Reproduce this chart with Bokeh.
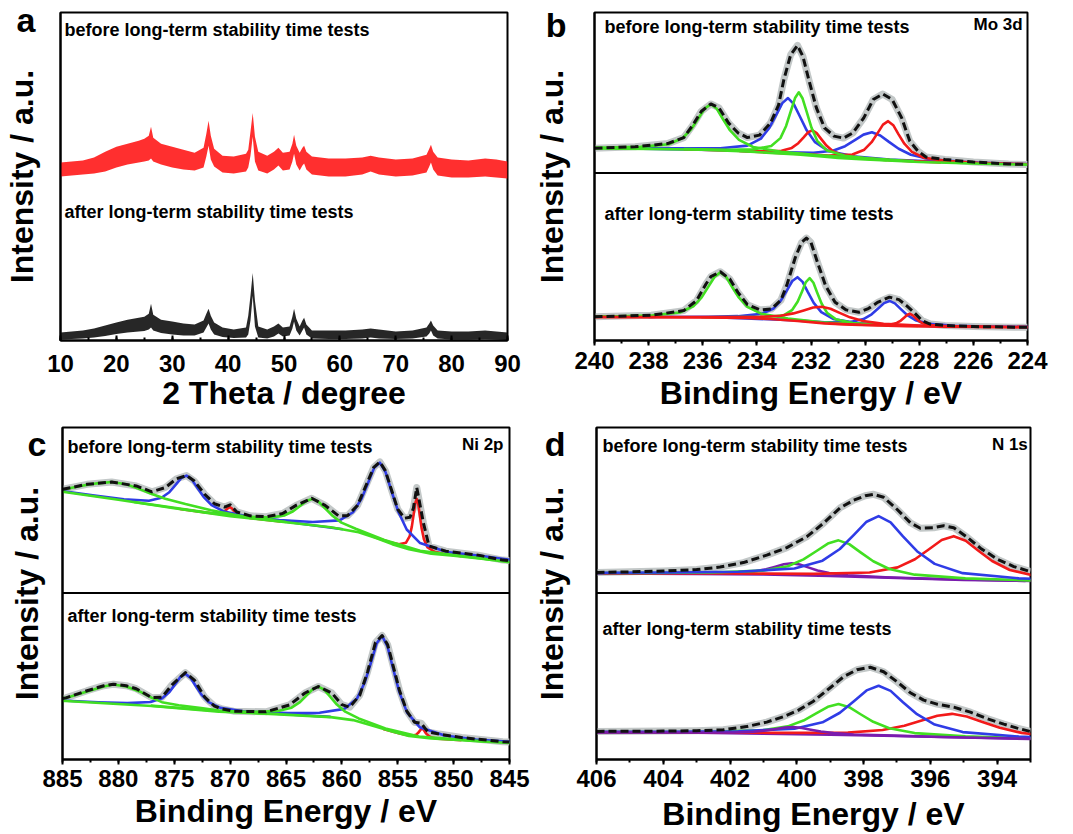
from bokeh.plotting import figure
from bokeh.models import Range1d, Label, Span, SingleIntervalTicker, FixedTicker
from bokeh.layouts import row, column
from bokeh.embed import file_html
from bokeh.resources import INLINE

FONT = "Liberation Sans"
RED = "#f21a1a"
BLUE = "#2f3ce6"
GREEN = "#42df22"
PURPLE = "#7a1cae"
RAW = "#c3c8c8"
ENV = "#111111"

# ---------------- (a) XRD: noise band of each pattern (upper / lower edge) ----------------
xrd_2theta = [10, 12, 14, 16, 18, 20, 22, 24, 25, 25.8, 26.2, 26.6, 28, 30, 32, 34, 35.6, 36.1, 36.5, 36.9,
              37.5, 39, 41, 43.2, 43.6, 44.0, 44.4, 44.8, 45.4, 47, 48.2, 49, 49.8, 51.0, 51.5, 51.8, 52.2,
              52.8, 53.3, 53.6, 54.0, 55, 58, 61, 64, 65.5, 67, 70, 73, 75.5, 76.0, 76.3, 76.7, 77.5, 80,
              83, 86, 88, 90]
xrd_before_hi = [179, 180, 181, 184, 190, 195, 198, 201, 203, 206, 215, 204, 198, 195, 192, 189, 194, 208, 221,
                 206, 193, 186, 185, 188, 192, 210, 229, 205, 190, 186, 190, 194, 189, 190, 198, 207, 196, 189,
                 194, 196, 190, 185, 183, 183, 184, 186, 184, 182, 183, 187, 193, 197, 190, 184, 182, 181, 183,
                 182, 180]
xrd_before_lo = [165, 166, 167, 168, 170, 174, 177, 179, 180, 181, 183, 180, 177, 174, 172, 171, 174, 185, 196,
                 182, 175, 169, 168, 170, 174, 186, 205, 180, 171, 168, 172, 176, 171, 172, 180, 188, 177, 171,
                 176, 178, 172, 167, 165, 165, 167, 170, 167, 165, 166, 169, 175, 179, 172, 166, 164, 164, 165,
                 164, 163]
xrd_after_hi = [8, 9, 10, 12, 15, 18, 21, 23, 24, 27, 37, 26, 21, 19, 17, 16, 20, 27, 32, 25, 18, 13, 11, 13,
                25, 45, 68, 40, 14, 11, 14, 17, 13, 14, 24, 32, 22, 14, 20, 23, 16, 10, 10, 10, 11, 12, 11, 9,
                10, 13, 17, 20, 15, 10, 9, 9, 10, 9, 8]
xrd_after_lo = [1, 1.5, 2, 3, 4.5, 6.5, 8, 9, 9.5, 11, 13, 10, 7.5, 6, 5, 5, 8, 13, 17, 11, 6, 3.5, 2.5, 3, 6,
                20, 45, 14, 3, 2, 4, 7, 4, 5, 12, 19, 10, 5, 10, 13, 6, 2, 1.5, 1.5, 2, 3, 2, 1.5, 2, 4, 7, 10,
                5, 2, 1, 1, 1.5, 1, 0.5]

# ---------------- (b) Mo 3d, before ----------------
mo1_bg_x = [240, 238, 236, 234.4, 233.5, 232.5, 231.5, 231, 230, 229, 228, 226, 224]
mo1_bg_y = [24.7, 24.2, 23.4, 21.5, 20.2, 18.6, 16.3, 15.0, 13.6, 12.3, 11.1, 9.6, 8.4]
mo1_env_x = [240, 238.5, 237.3, 236.7, 236.35, 236.05, 235.7, 235.4, 235.05, 234.7, 234.35, 233.9, 233.5, 233.2,
             233.0, 232.75, 232.5, 232.3, 232.05, 231.8, 231.5, 231.15, 230.8, 230.45, 230.05, 229.7, 229.35,
             229.0, 228.65, 228.35, 228.05, 227.75, 227.05, 226.0, 224.7, 224]
mo1_env_y = [24.9, 26.3, 29.5, 35.5, 48.7, 62, 69.3, 65.3, 50.3, 40.3, 35.5, 38, 50, 68, 94, 118.7, 128, 117,
             90.3, 65.3, 45.3, 37, 35, 40.3, 55.3, 73.7, 79.3, 73.7, 55.3, 32, 22, 16, 13.5, 11, 9, 8.6]
mo1_g1_x = [242.2, 239.6, 238.3, 237.26, 236.74, 236.42, 236.16, 235.92, 235.7, 235.48, 235.25, 234.99, 234.66,
            234.14, 233.1, 231.8, 229.2]
mo1_g1_y = [25.5, 25.5, 26.2, 28.9, 35.1, 44.1, 54.9, 64.9, 69.0, 64.4, 53.9, 42.7, 33.2, 26.1, 21.4, 17.9, 12.9]
mo1_g2_x = [236.7, 235.0, 234.15, 233.47, 233.13, 232.92, 232.75, 232.59, 232.45, 232.31, 232.15, 231.98, 231.77,
            231.43, 230.75, 229.9, 228.2]
mo1_g2_y = [24.1, 23.4, 23.7, 27.0, 35.0, 47.2, 61.7, 75.2, 81.0, 74.7, 60.5, 45.3, 32.3, 22.9, 17.2, 14.7, 11.8]
mo1_b1_x = [239.1, 236.6, 235.35, 234.35, 233.85, 233.54, 233.29, 233.06, 232.85, 232.64, 232.41, 232.16, 231.85,
            231.35, 230.35, 229.1, 226.6]
mo1_b1_y = [24.8, 24.7, 24.9, 27.5, 34.5, 45.2, 58.1, 70.1, 75.2, 69.4, 56.7, 42.8, 30.9, 22.0, 16.4, 13.5, 10.4]
mo1_r1_x = [236.7, 234.8, 233.85, 233.09, 232.71, 232.47, 232.28, 232.11, 231.95, 231.79, 231.62, 231.43, 231.19,
            230.81, 230.05, 229.1, 227.2]
mo1_r1_y = [23.9, 22.5, 21.8, 22.3, 25.2, 29.9, 35.5, 40.8, 42.9, 40.0, 34.0, 27.5, 21.8, 17.5, 14.7, 12.9, 10.7]
mo1_b2_x = [238.75, 235.15, 233.35, 231.91, 231.19, 230.74, 230.38, 230.06, 229.75, 229.44, 229.12, 228.76,
            228.31, 227.59, 226.15, 224.35, 220.75]
mo1_b2_y = [24.6, 22.9, 21.1, 20.3, 22.3, 26.9, 32.9, 38.5, 40.8, 37.7, 31.2, 24.3, 18.3, 13.8, 10.8, 9.1, 7.9]
mo1_r2_x = [234.65, 232.45, 231.35, 230.47, 230.03, 229.76, 229.54, 229.34, 229.15, 228.96, 228.77, 228.55,
            228.27, 227.83, 226.95, 225.85, 223.65]
mo1_r2_y = [22.1, 19.2, 17.5, 18.6, 23.4, 30.9, 40.0, 48.5, 52.0, 48.0, 39.0, 29.4, 21.2, 15.3, 11.9, 10.3, 8.5]

# ---------------- (b) Mo 3d, after ----------------
mo2_bg_x = [240, 238, 236, 234.4, 233.5, 232.5, 231.5, 230.5, 229.5, 228.5, 227, 224]
mo2_bg_y = [23.5, 23.3, 23.0, 22.5, 21.5, 19.5, 17.2, 15.8, 15.0, 14.3, 13.8, 13.3]
mo2_env_x = [240, 237.9, 236.7, 236.23, 235.88, 235.7, 235.35, 235.0, 234.7, 234.35, 233.88, 233.46, 233.11,
             232.88, 232.58, 232.35, 232.17, 232.0, 231.76, 231.46, 231.11, 230.7, 230.23, 229.88, 229.52, 229.1,
             228.75, 228.45, 228.15, 227.9, 227.6, 227.05, 226.0, 224.5, 224]
mo2_env_y = [23.8, 25.3, 30, 40, 56.7, 64, 69, 61.7, 48.3, 36, 30.7, 31.7, 40.5, 56.7, 83.3, 98.3, 102.7, 98.3,
             78.3, 55, 38.3, 30.7, 28.3, 32, 38.5, 43.5, 41, 34.5, 27, 20, 16.5, 15, 14, 13.4, 13.3]
mo2_g1_x = [241.6, 239.1, 237.85, 236.85, 236.35, 236.04, 235.79, 235.56, 235.35, 235.14, 234.91, 234.66, 234.35,
            233.85, 232.85, 231.6, 229.1]
mo2_g1_y = [24.0, 24.3, 25.2, 28.1, 34.3, 43.3, 54.0, 64.0, 68.3, 63.9, 53.7, 42.9, 33.7, 26.9, 22.1, 18.3, 15.0]
mo2_g2_x = [236.05, 234.45, 233.65, 233.01, 232.69, 232.49, 232.33, 232.19, 232.05, 231.91, 231.77, 231.61,
            231.41, 231.09, 230.45, 229.65, 228.05]
mo2_g2_y = [23.3, 23.4, 23.5, 25.3, 30.8, 39.1, 49.2, 58.6, 62.5, 57.9, 47.9, 37.1, 27.9, 21.4, 17.6, 16.0, 14.5]
mo2_b1_x = [238.0, 235.8, 234.7, 233.82, 233.38, 233.11, 232.89, 232.69, 232.5, 232.31, 232.12, 231.9, 231.62,
            231.18, 230.3, 229.2, 227.0]
mo2_b1_y = [23.6, 23.8, 24.4, 26.7, 32.1, 40.3, 50.3, 59.7, 63.5, 58.8, 48.7, 37.7, 28.4, 21.6, 17.4, 15.6, 14.1]
mo2_b2_x = [235.1, 232.7, 231.5, 230.54, 230.06, 229.76, 229.52, 229.3, 229.1, 228.9, 228.68, 228.44, 228.14,
            227.66, 226.7, 225.5, 223.1]
mo2_b2_y = [22.9, 20.4, 18.2, 18.6, 21.5, 26.3, 32.1, 37.5, 39.7, 37.2, 31.5, 25.4, 20.4, 16.8, 14.8, 14.0, 13.4]
mo2_r1_x = [241.1, 237.3, 235.4, 233.88, 233.12, 232.65, 232.27, 231.92, 231.6, 231.28, 230.94, 230.56, 230.08,
            229.32, 227.8, 225.9, 222.1]
mo2_r1_y = [23.7, 23.5, 23.5, 23.7, 24.8, 27.2, 30.2, 33.1, 33.9, 31.8, 27.7, 23.2, 19.5, 16.7, 14.8, 13.9, 13.2]
mo2_r2_x = [231.35, 230.15, 229.55, 229.07, 228.83, 228.68, 228.56, 228.45, 228.35, 228.25, 228.14, 228.02,
            227.87, 227.63, 227.15, 226.55, 225.35]
mo2_r2_y = [17.1, 15.8, 15.6, 16.1, 17.6, 20.0, 22.9, 25.6, 26.8, 25.5, 22.7, 19.7, 17.2, 15.4, 14.4, 14.0, 13.6]

# ---------------- (c) Ni 2p, before ----------------
ni1_bg_x = [886, 885, 880, 875, 870, 865, 861, 858.5, 857, 855.5, 854, 852, 850, 847.5, 845, 843]
ni1_bg_y = [103.3, 101.5, 93.5, 85, 77, 71, 66, 61, 55.5, 49, 44, 39.5, 37.5, 34.5, 31, 29]
ni1_env_x = [885, 882.8, 880.6, 878.4, 877.0, 875.8, 874.8, 873.9, 873.2, 872.3, 871.4, 870.5, 870.0, 869.4,
             868.2, 866.8, 865.3, 864.1, 862.7, 861.5, 860.3, 859.5, 858.6, 857.7, 857.15, 856.6, 856.1, 855.55,
             855.0, 854.4, 853.9, 853.6, 853.3, 853.0, 852.7, 852.2, 850.7, 847.8, 845.6, 845]
ni1_env_y = [104, 109, 111.3, 107.4, 101.5, 105.8, 114.6, 117.8, 112.3, 99.3, 89.5, 86.2, 88.5, 81.3, 77.4, 76.5,
             79.7, 87.9, 95, 87.9, 77.4, 77.4, 87.9, 111.5, 126, 131.5, 122.5, 103, 84, 75, 76, 85, 105.8, 88,
             70, 47.1, 42, 38, 33, 32.5]
ni1_gs_x = [886, 884.8, 883.4, 881.9, 880.6, 879.3, 878.1, 877.0, 875.8, 874.0, 871.7, 869.4, 867.0, 865.0]
ni1_gs_y = [102.8, 104.1, 107.4, 110.0, 111.3, 109.0, 104.2, 99.3, 94.6, 89.2, 83.0, 78.0, 74.3, 71.2]
ni1_b1_x = [887.9, 882.3, 879.5, 877.26, 876.14, 875.44, 874.88, 874.38, 873.9, 873.42, 872.92, 872.36, 871.66,
            870.54, 868.3, 865.5, 859.9]
ni1_b1_y = [106.9, 97.9, 94.1, 92.6, 95.5, 101.1, 108.4, 115.2, 117.7, 113.7, 105.2, 96.2, 88.2, 81.6, 76.4,
            72.3, 64.0]
ni1_r1_x = [874.5, 872.7, 871.8, 871.08, 870.72, 870.5, 870.32, 870.15, 870.0, 869.85, 869.69, 869.5, 869.28,
            868.92, 868.2, 867.3, 865.5]
ni1_r1_y = [84.3, 81.5, 80.3, 79.7, 80.4, 81.8, 83.7, 85.4, 86.0, 85.0, 82.8, 80.4, 78.4, 76.7, 75.2, 73.9, 71.7]
ni1_g2_x = [878.6, 872.2, 869.0, 866.44, 865.16, 864.36, 863.72, 863.14, 862.6, 862.06, 861.48, 860.84, 860.04,
            858.76, 856.2, 853.0, 846.6]
ni1_g2_y = [91.3, 81.0, 76.9, 75.6, 77.7, 82.0, 87.5, 92.6, 94.5, 91.3, 84.7, 77.5, 70.6, 64.4, 53.1, 42.3, 33.4]
ni1_bm_x = [871.6, 865.6, 862.6, 860.2, 859.0, 858.25, 857.65, 857.11, 856.6, 856.09, 855.55, 854.95, 854.2,
            853.0, 850.6, 847.6, 841.6]
ni1_bm_y = [80.1, 73.2, 71.2, 72.8, 81.0, 94.4, 110.5, 125.5, 130.8, 121.2, 101.8, 81.5, 63.7, 50.1, 41.2, 37.2,
            28.1]
ni1_rm_x = [857.3, 855.7, 854.9, 854.26, 853.94, 853.74, 853.58, 853.44, 853.3, 853.16, 853.02, 852.86, 852.66,
            852.34, 851.7, 850.9, 849.3]
ni1_rm_y = [57.0, 50.9, 48.8, 50.5, 56.7, 66.6, 78.6, 89.8, 94.4, 89.1, 77.3, 64.6, 54.0, 45.9, 41.3, 39.4, 37.0]

# ---------------- (c) Ni 2p, after ----------------
ni2_bg_x = [886, 884.7, 877, 871, 866, 861, 859, 857, 855.5, 854, 852, 850, 847.5, 845, 843]
ni2_bg_y = [59.5, 58.6, 53.7, 48, 45.5, 42.5, 39.5, 33, 28, 23.5, 21, 19.8, 18, 16.5, 15.5]
ni2_env_x = [885, 884.7, 882.8, 881.3, 880.45, 879.3, 878.4, 877.0, 876.1, 875.2, 874.0, 873.2, 872.3, 871.9,
             871.4, 870.8, 869.7, 866.8, 864.7, 863.3, 862.1, 860.9, 860.0, 859.3, 858.4, 857.7, 857.0, 856.4,
             855.9, 855.4, 854.85, 854.2, 853.5, 852.9, 852.3, 851.3, 849.3, 845.6, 845]
ni2_env_y = [61.2, 61.8, 69, 74, 75.5, 74, 71, 62, 62.5, 74.9, 87.2, 79.7, 63, 58.5, 53.5, 51, 48.5, 47.8, 54.7,
             66.7, 73.2, 66.7, 55, 52.5, 64.5, 87.9, 117.2, 124.4, 115, 93.5, 69.5, 48.8, 37.4, 36.4, 27.6, 25.5,
             22, 17.8, 17.5]
ni2_gs_x = [886, 884.7, 882.8, 881.3, 880.45, 879.3, 878.1, 877.0, 876.1, 874.6, 872.6, 871.0, 869.0, 867.0]
ni2_gs_y = [59.8, 61.8, 68.3, 73.2, 75.2, 73.2, 68.3, 61.8, 57.5, 54.5, 51.5, 49.0, 47.5, 46.3]
ni2_b1_x = [887.0, 881.8, 879.2, 877.12, 876.08, 875.43, 874.91, 874.44, 874.0, 873.56, 873.09, 872.57, 871.92,
            870.88, 868.8, 866.2, 861.0]
ni2_b1_y = [60.3, 57.4, 56.5, 57.6, 61.5, 67.8, 75.6, 82.9, 85.9, 82.1, 73.9, 65.1, 57.5, 51.8, 48.3, 46.3, 42.8]
ni2_g2_x = [877.1, 871.1, 868.1, 865.7, 864.5, 863.75, 863.15, 862.61, 862.1, 861.59, 861.05, 860.45, 859.7,
            858.5, 856.1, 853.1, 847.1]
ni2_g2_y = [54.0, 48.6, 47.8, 48.6, 52.0, 57.5, 64.3, 70.6, 73.2, 70.0, 63.0, 55.1, 48.0, 41.2, 31.2, 23.0, 18.0]
ni2_bm_x = [870.4, 864.8, 862.0, 859.76, 858.64, 857.94, 857.38, 856.88, 856.4, 855.92, 855.42, 854.86, 854.16,
            853.04, 850.8, 848.0, 842.4]
ni2_bm_y = [48.4, 46.6, 46.9, 50.8, 61.3, 77.5, 97.8, 116.7, 124.0, 113.5, 91.3, 67.6, 47.0, 32.4, 24.1, 20.1,
            15.9]
ni2_rs_x = [856.3, 854.9, 854.2, 853.64, 853.36, 853.19, 853.05, 852.92, 852.8, 852.68, 852.56, 852.42, 852.24,
            851.96, 851.4, 850.7, 849.3]
ni2_rs_y = [30.7, 26.4, 24.5, 24.0, 24.9, 26.5, 28.5, 30.3, 31.0, 30.0, 27.7, 25.5, 23.8, 22.0, 20.8, 20.3, 19.4]

# ---------------- (d) N 1s, before ----------------
n1_bg_x = [408, 406, 403, 401, 399, 397, 395, 393, 391]
n1_bg_y = [19.7, 19.5, 19.2, 18.5, 17.0, 15.0, 13.2, 12.0, 11.0]
n1_env_x = [406, 405, 404, 403, 402.3, 401.6, 400.9, 400.3, 399.7, 399.2, 398.7, 398.3, 397.95, 397.7, 397.4,
            397.0, 396.6, 396.3, 395.9, 395.6, 395.3, 394.9, 394.5, 394.0, 393.5, 393.0]
n1_env_y = [20.6, 21.2, 22.0, 23.5, 26, 30.5, 38, 45.5, 56.5, 70, 85.5, 93, 97.5, 99, 96, 84, 70.5, 65, 65.5,
            67.5, 65.5, 56, 45, 34, 26.5, 21.5]
n1_p_x = [407.15, 404.35, 402.95, 401.83, 401.27, 400.92, 400.64, 400.39, 400.15, 399.91, 399.66, 399.38, 399.03,
          398.47, 397.35, 395.95, 393.15]
n1_p_y = [19.7, 19.6, 19.7, 20.1, 21.6, 23.8, 26.4, 28.9, 29.9, 28.5, 25.7, 22.6, 20.0, 17.8, 15.8, 14.3, 12.2]
n1_g_x = [408.25, 404.45, 402.55, 401.03, 400.27, 399.8, 399.42, 399.07, 398.75, 398.43, 398.09, 397.71, 397.23,
          396.47, 394.95, 393.05, 389.25]
n1_g_y = [20.0, 20.0, 20.5, 22.4, 26.8, 33.7, 41.9, 49.6, 52.8, 49.0, 40.7, 31.8, 24.1, 18.4, 14.7, 12.7, 10.4]
n1_b_x = [408.05, 403.85, 401.75, 400.07, 399.23, 398.71, 398.29, 397.91, 397.55, 397.19, 396.82, 396.4, 395.87,
          395.03, 393.35, 391.25, 387.05]
n1_b_y = [20.1, 20.5, 21.3, 24.5, 32.4, 44.1, 58.3, 71.5, 77.1, 70.8, 56.8, 41.9, 29.2, 19.9, 14.7, 12.3, 9.4]
n1_r_x = [405.8, 401.6, 399.5, 397.82, 396.98, 396.46, 396.04, 395.66, 395.3, 394.94, 394.57, 394.15, 393.62,
          392.78, 391.1, 389.0, 384.8]
n1_r_y = [19.8, 19.5, 19.2, 20.6, 25.7, 33.9, 43.9, 53.1, 57.0, 52.5, 42.7, 32.1, 23.1, 16.6, 12.8, 10.8, 8.3]

# ---------------- (d) N 1s, after ----------------
n2_bg_x = [408, 406, 403, 401, 399, 397, 395, 393, 391]
n2_bg_y = [27.3, 27.2, 26.8, 26.0, 24.8, 23.5, 22.0, 20.7, 19.5]
n2_env_x = [406, 405, 404, 403, 402.2, 401.5, 400.9, 400.4, 399.95, 399.5, 399.0, 398.6, 398.2, 397.8, 397.4,
            397.0, 396.6, 396.2, 395.8, 395.3, 394.8, 394.3, 393.8, 393.4, 393.0]
n2_env_y = [28.2, 28.3, 28.5, 28.9, 29.8, 33, 37.5, 43, 49.5, 58.5, 72, 83, 90, 92.5, 88, 78, 67, 59.5, 55.5,
            52.5, 47.5, 41, 35.5, 31.5, 28]
n2_p_x = [407.6, 404.6, 403.1, 401.9, 401.3, 400.93, 400.63, 400.36, 400.1, 399.85, 399.58, 399.28, 398.9, 398.3,
          397.1, 395.6, 392.6]
n2_p_y = [27.3, 27.1, 27.1, 27.1, 27.9, 29.1, 30.6, 32.0, 32.5, 31.6, 29.9, 28.1, 26.5, 25.1, 23.9, 22.6, 20.5]
n2_g_x = [408.25, 404.45, 402.55, 401.03, 400.27, 399.8, 399.42, 399.07, 398.75, 398.43, 398.09, 397.71, 397.23,
          396.47, 394.95, 393.05, 389.25]
n2_g_y = [27.5, 27.6, 27.9, 29.4, 33.2, 39.1, 46.2, 52.9, 55.6, 52.5, 45.4, 37.8, 31.3, 26.5, 23.2, 21.3, 18.8]
n2_b_x = [408.05, 403.85, 401.75, 400.07, 399.23, 398.71, 398.29, 397.91, 397.55, 397.19, 396.82, 396.4, 395.87,
          395.03, 393.35, 391.25, 387.05]
n2_b_y = [27.7, 27.9, 28.4, 30.9, 37.3, 46.9, 58.5, 69.3, 73.9, 68.8, 57.5, 45.4, 35.0, 27.5, 23.0, 20.6, 17.5]
n2_r_x = [408.35, 403.15, 400.55, 398.47, 397.43, 396.78, 396.26, 395.79, 395.35, 394.91, 394.44, 393.92, 393.27,
          392.23, 390.15, 387.55, 382.35]
n2_r_y = [27.5, 27.3, 26.7, 27.0, 29.6, 33.8, 39.0, 43.8, 45.8, 43.2, 37.7, 31.8, 26.7, 22.8, 20.0, 18.0, 14.7]

BEFORE = "before long-term stability time tests"
AFTER = "after long-term stability time tests"


def make_panel(width, height, borders, xr, yr, interval, xlabel, ticks_inside,
               letter, letter_y, letter_standoff, ylabel_standoff, xlabel_standoff, tick_label_standoff):
    left, right, top, bottom = borders
    p = figure(width=width, height=height, x_range=Range1d(*xr), y_range=Range1d(*yr),
               output_backend="svg", toolbar_location=None,
               min_border_left=left, min_border_right=right,
               min_border_top=top, min_border_bottom=bottom)
    p.xgrid.visible = False
    p.ygrid.visible = False
    p.background_fill_color = "white"
    p.border_fill_color = "white"
    p.outline_line_color = "black"
    p.outline_line_width = 2
    p.outline_line_alpha = 1.0

    xa = p.xaxis[0]
    xa.ticker = SingleIntervalTicker(interval=interval, num_minor_ticks=2)
    xa.axis_label = xlabel
    xa.axis_label_text_font = FONT
    xa.axis_label_text_font_size = "32px"
    xa.axis_label_text_font_style = "bold"
    xa.axis_label_text_color = "black"
    xa.axis_label_standoff = xlabel_standoff
    xa.major_label_text_font = FONT
    xa.major_label_text_font_size = "24px"
    xa.major_label_text_font_style = "bold"
    xa.major_label_text_color = "black"
    xa.major_label_standoff = tick_label_standoff
    xa.axis_line_width = 2
    xa.axis_line_color = "black"
    xa.major_tick_line_width = 2
    xa.minor_tick_line_width = 2
    xa.major_tick_line_color = "black"
    xa.minor_tick_line_color = "black"
    if ticks_inside:
        xa.major_tick_in, xa.major_tick_out = 5, 0
        xa.minor_tick_in, xa.minor_tick_out = 3, 0
    else:
        xa.major_tick_in, xa.major_tick_out = 0, 5
        xa.minor_tick_in, xa.minor_tick_out = 0, 3

    # intensity axis: no numeric ticks; its single tick label carries the panel letter
    ya = p.yaxis[0]
    ya.ticker = FixedTicker(ticks=[letter_y], minor_ticks=[])
    ya.major_label_overrides = {letter_y: letter}
    ya.major_label_text_font = FONT
    ya.major_label_text_font_size = "34px"
    ya.major_label_text_font_style = "bold"
    ya.major_label_text_color = "black"
    ya.major_label_standoff = letter_standoff
    ya.major_tick_line_color = None
    ya.minor_tick_line_color = None
    ya.major_tick_in, ya.major_tick_out = 0, 0
    ya.minor_tick_in, ya.minor_tick_out = 0, 0
    ya.axis_label = "Intensity / a.u."
    ya.axis_label_text_font = FONT
    ya.axis_label_text_font_size = "32px"
    ya.axis_label_text_font_style = "bold"
    ya.axis_label_text_color = "black"
    ya.axis_label_standoff = ylabel_standoff
    ya.axis_line_width = 2
    ya.axis_line_color = "black"
    return p


def add_text(p, x, y, text, size="18px", align="left"):
    p.add_layout(Label(x=x, y=y, text=text, text_font=FONT, text_font_size=size,
                       text_font_style="bold", text_color="black", text_align=align,
                       text_baseline="alphabetic"))


def draw_fit(p, off, env_x, env_y, bg_x, bg_y, bg_color, peaks, bg_on_top=True):
    """Raw spectrum halo, fitted components on the background, dashed fit envelope."""
    shift = lambda ys: [v + off for v in ys]
    p.line(env_x, shift(env_y), line_color=RAW, line_width=7, line_join="round")
    if not bg_on_top:
        p.line(bg_x, shift(bg_y), line_color=bg_color, line_width=2.6, line_join="round")
    for px, py, col in peaks:
        p.line(px, shift(py), line_color=col, line_width=2.6, line_join="round")
    if bg_on_top:
        p.line(bg_x, shift(bg_y), line_color=bg_color, line_width=2.6, line_join="round")
    p.line(env_x, shift(env_y), line_color=ENV, line_width=3, line_dash="8 4", line_join="round")


# ---------------- panel a ----------------
pa = make_panel(530, 420, (58, 23, 12, 78), (10, 90), (0, 330), 10, "2 Theta / degree", True,
                letter="a", letter_y=322, letter_standoff=25,
                ylabel_standoff=-26, xlabel_standoff=0, tick_label_standoff=14)
pa.varea(x=xrd_2theta, y1=xrd_before_lo, y2=xrd_before_hi, fill_color="#ff1d1d", fill_alpha=0.92)
pa.varea(x=xrd_2theta, y1=xrd_after_lo, y2=xrd_after_hi, fill_color="#151515", fill_alpha=0.92)
add_text(pa, 10.7, 312, BEFORE)
add_text(pa, 10.7, 129.5, AFTER)

# ---------------- panel b ----------------
OFF_B = 168
pb = make_panel(543, 420, (59, 46, 11, 80), (240, 224), (0, 329), 2, "Binding Energy / eV", False,
                letter="b", letter_y=316, letter_standoff=28,
                ylabel_standoff=-27, xlabel_standoff=3, tick_label_standoff=6)
draw_fit(pb, OFF_B, mo1_env_x, mo1_env_y, mo1_bg_x, mo1_bg_y, GREEN,
         [(mo1_b1_x, mo1_b1_y, BLUE), (mo1_b2_x, mo1_b2_y, BLUE),
          (mo1_r1_x, mo1_r1_y, RED), (mo1_r2_x, mo1_r2_y, RED),
          (mo1_g1_x, mo1_g1_y, GREEN), (mo1_g2_x, mo1_g2_y, GREEN)])
draw_fit(pb, 0, mo2_env_x, mo2_env_y, mo2_bg_x, mo2_bg_y, RED,
         [(mo2_b1_x, mo2_b1_y, BLUE), (mo2_b2_x, mo2_b2_y, BLUE),
          (mo2_g1_x, mo2_g1_y, GREEN), (mo2_g2_x, mo2_g2_y, GREEN),
          (mo2_r1_x, mo2_r1_y, RED), (mo2_r2_x, mo2_r2_y, RED)])
pb.add_layout(Span(location=OFF_B, dimension="width", line_color="black", line_width=2))
add_text(pb, 239.63, 314.5, BEFORE)
add_text(pb, 239.63, 127, AFTER)
add_text(pb, 224.18, 316.5, "Mo 3d", size="17px", align="right")

# ---------------- panel c ----------------
OFF_C = 167
pc = make_panel(530, 414, (62, 21, 7, 74), (885, 845), (0, 333), 5, "Binding Energy / eV", False,
                letter="c", letter_y=316, letter_standoff=16,
                ylabel_standoff=-20, xlabel_standoff=3, tick_label_standoff=5)
draw_fit(pc, OFF_C, ni1_env_x, ni1_env_y, ni1_bg_x, ni1_bg_y, GREEN,
         [(ni1_r1_x, ni1_r1_y, RED), (ni1_rm_x, ni1_rm_y, RED),
          (ni1_b1_x, ni1_b1_y, BLUE), (ni1_bm_x, ni1_bm_y, BLUE),
          (ni1_gs_x, ni1_gs_y, GREEN), (ni1_g2_x, ni1_g2_y, GREEN)])
draw_fit(pc, 0, ni2_env_x, ni2_env_y, ni2_bg_x, ni2_bg_y, GREEN,
         [(ni2_rs_x, ni2_rs_y, RED),
          (ni2_b1_x, ni2_b1_y, BLUE), (ni2_bm_x, ni2_bm_y, BLUE),
          (ni2_gs_x, ni2_gs_y, GREEN), (ni2_g2_x, ni2_g2_y, GREEN)])
pc.add_layout(Span(location=OFF_C, dimension="width", line_color="black", line_width=2))
add_text(pc, 884.55, 313, BEFORE)
add_text(pc, 884.55, 144, AFTER)
add_text(pc, 845.54, 316, "Ni 2p", size="17px", align="right")

# ---------------- panel d ----------------
OFF_D = 167
pd = make_panel(543, 414, (63, 43, 7, 74), (406, 393), (0, 333), 2, "Binding Energy / eV", False,
                letter="d", letter_y=316, letter_standoff=31,
                ylabel_standoff=-28, xlabel_standoff=6, tick_label_standoff=5)
draw_fit(pd, OFF_D, n1_env_x, n1_env_y, n1_bg_x, n1_bg_y, PURPLE,
         [(n1_p_x, n1_p_y, PURPLE), (n1_r_x, n1_r_y, RED),
          (n1_g_x, n1_g_y, GREEN), (n1_b_x, n1_b_y, BLUE)], bg_on_top=False)
draw_fit(pd, 0, n2_env_x, n2_env_y, n2_bg_x, n2_bg_y, PURPLE,
         [(n2_r_x, n2_r_y, RED), (n2_g_x, n2_g_y, GREEN),
          (n2_b_x, n2_b_y, BLUE), (n2_p_x, n2_p_y, PURPLE)], bg_on_top=False)
pd.add_layout(Span(location=OFF_D, dimension="width", line_color="black", line_width=2))
add_text(pd, 405.82, 314.5, BEFORE)
add_text(pd, 405.82, 131, AFTER)
add_text(pd, 393.08, 316, "N 1s", size="17px", align="right")

layout = column(row(pa, pb), row(pc, pd))
open("out.html", "w").write(file_html(layout, INLINE))
